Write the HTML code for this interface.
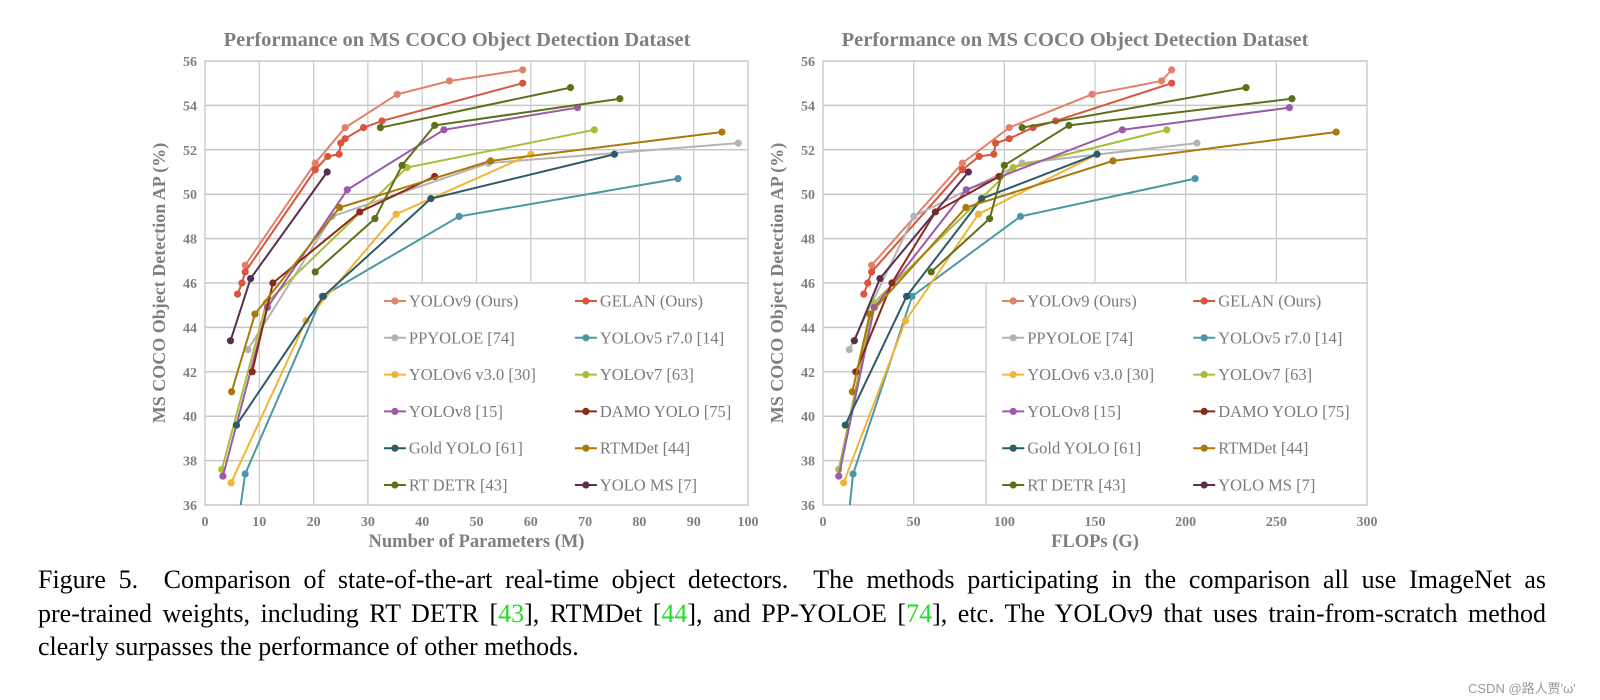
<!DOCTYPE html>
<html><head><meta charset="utf-8"><style>
body{margin:0;background:#fff;width:1600px;height:700px;overflow:hidden;font-family:"Liberation Serif",serif}
#cap{position:absolute;left:38px;top:563px;width:1508px;font-size:26px;line-height:33.5px;color:#000}
#cap div{white-space:nowrap;text-align:justify;text-align-last:justify}
#cap div.last{text-align:left;text-align-last:left}
#cap a{color:#22dd22;text-decoration:none}
#wm{position:absolute;left:1468px;top:678px;font-family:"Liberation Sans","Noto Sans CJK SC",sans-serif;font-size:13px;color:#999}
</style></head><body>
<svg id="svg" width="1600" height="560" style="position:absolute;left:0;top:0"></svg>
<div id="cap"><div>Figure 5.&nbsp; Comparison of state-of-the-art real-time object detectors.&nbsp; The methods participating in the comparison all use ImageNet as</div><div>pre-trained weights, including RT DETR [<a>43</a>], RTMDet [<a>44</a>], and PP-YOLOE [<a>74</a>], etc. The YOLOv9 that uses train-from-scratch method</div><div class="last">clearly surpasses the performance of other methods.</div></div>
<div id="wm">CSDN @路人贾'ω'</div>
<script>
const seriesNames=["YOLOv9 (Ours)","GELAN (Ours)","PPYOLOE [74]","YOLOv5 r7.0 [14]","YOLOv6 v3.0 [30]","YOLOv7 [63]","YOLOv8 [15]","DAMO YOLO [75]","Gold YOLO [61]","RTMDet [44]","RT DETR [43]","YOLO MS [7]"];
const seriesColors=["#e2806c","#d9553e","#b4b4b4","#4a97a7","#f2b533","#a9bd38","#9b5ba8","#8b2a1a","#2c5a66","#a9790c","#5e6f1a","#5a2e4f"];
const ap={
 "YOLOv9 (Ours)":[46.8,51.4,53.0,54.5,55.1,55.6],
 "GELAN (Ours)":[45.5,46.0,46.5,51.1,51.7,51.8,52.3,52.5,53.0,53.3,55.0],
 "PPYOLOE [74]":[43.0,49.0,51.4,52.3],
 "YOLOv5 r7.0 [14]":[28.0,37.4,45.4,49.0,50.7],
 "YOLOv6 v3.0 [30]":[37.0,44.3,49.1,51.8],
 "YOLOv7 [63]":[37.6,45.1,51.2,52.9],
 "YOLOv8 [15]":[37.3,44.9,50.2,52.9,53.9],
 "DAMO YOLO [75]":[42.0,46.0,49.2,50.8],
 "Gold YOLO [61]":[39.6,45.4,49.8,51.8],
 "RTMDet [44]":[41.1,44.6,49.4,51.5,52.8],
 "RT DETR [43]":[46.5,48.9,51.3,53.1,54.3],
 "RT DETR L/X":[53.0,54.8],
 "YOLO MS [7]":[43.4,46.2,51.0]
};
const params={
 "YOLOv9 (Ours)":[7.4,20.3,25.8,35.4,45.0,58.5],
 "GELAN (Ours)":[6.0,6.8,7.4,20.3,22.6,24.7,25.0,25.8,29.2,32.6,58.5],
 "PPYOLOE [74]":[7.9,23.4,52.2,98.2],
 "YOLOv5 r7.0 [14]":[1.9,7.4,21.6,46.8,87.1],
 "YOLOv6 v3.0 [30]":[4.8,18.6,35.2,60.0],
 "YOLOv7 [63]":[3.1,11.3,37.2,71.7],
 "YOLOv8 [15]":[3.3,11.5,26.2,44.0,68.6],
 "DAMO YOLO [75]":[8.7,12.5,28.5,42.3],
 "Gold YOLO [61]":[5.8,21.8,41.6,75.4],
 "RTMDet [44]":[4.9,9.2,24.8,52.6,95.2],
 "RT DETR [43]":[20.3,31.3,36.3,42.3,76.4],
 "RT DETR L/X":[32.3,67.3],
 "YOLO MS [7]":[4.7,8.4,22.5]
};
const flops={
 "YOLOv9 (Ours)":[26.8,76.9,102.7,148.4,186.7,192.3],
 "GELAN (Ours)":[22.5,24.7,26.8,76.9,86.1,94.2,95.2,102.7,115.8,128.3,192.3],
 "PPYOLOE [74]":[14.5,50.1,109.8,206.2],
 "YOLOv5 r7.0 [14]":[4.5,16.6,49.1,108.9,205.2],
 "YOLOv6 v3.0 [30]":[11.4,45.5,85.7,151.1],
 "YOLOv7 [63]":[8.7,27.9,104.8,189.6],
 "YOLOv8 [15]":[8.7,28.3,79.0,165.1,257.2],
 "DAMO YOLO [75]":[18.1,38.0,62.0,97.1],
 "Gold YOLO [61]":[12.3,46.1,87.5,151.1],
 "RTMDet [44]":[16.2,25.8,78.8,159.9,283.0],
 "RT DETR [43]":[59.7,91.9,100.0,135.6,258.6],
 "RT DETR L/X":[109.8,233.3],
 "YOLO MS [7]":[17.3,31.4,80.2]
};
const yTicks=[36,38,40,42,44,46,48,50,52,54,56];
const xTicksL=[0,10,20,30,40,50,60,70,80,90,100];
const xTicksR=[0,50,100,150,200,250,300];

const NS="http://www.w3.org/2000/svg";
const svg=document.getElementById('svg');
function mk(t,a,p){const e=document.createElementNS(NS,t);for(const k in a)e.setAttribute(k,a[k]);(p||svg).appendChild(e);return e;}
const G="#c8c8c8",TXT="#7f7f7f";
function chart(id,x0,x1,xmax,xticks,xdata,xtitle,cx){
  const y0=505,y1=61;
  const X=v=>x0+(x1-x0)*v/xmax, Y=v=>y0-(y0-y1)*(v-36)/20;
  const g=mk('g',{});
  
  
  let t=mk('text',{x:cx,y:46,'text-anchor':'middle','font-size':'20.5','font-weight':'bold',fill:TXT},g);t.textContent="Performance on MS COCO Object Detection Dataset";
  
  yTicks.forEach(v=>{mk('line',{x1:x0,x2:x1,y1:Y(v),y2:Y(v),stroke:G,'stroke-width':1.5},g);
    const l=mk('text',{x:x0-8,y:Y(v)+5,'text-anchor':'end','font-size':'14','font-weight':'bold',fill:TXT},g);l.textContent=v;
    });
  xticks.forEach(v=>{mk('line',{x1:X(v),x2:X(v),y1:y0,y2:y1,stroke:G,'stroke-width':1.2},g);
    const l=mk('text',{x:X(v),y:526,'text-anchor':'middle','font-size':'14','font-weight':'bold',fill:TXT},g);l.textContent=v;
    });
  mk('rect',{x:x0,y:y1,width:x1-x0,height:y0-y1,fill:'none',stroke:'#d0d0d0','stroke-width':1.5},g);
  t=mk('text',{x:(x0+x1)/2,y:547,'text-anchor':'middle','font-size':'18.5','font-weight':'bold',fill:TXT},g);t.textContent=xtitle;
  
  t=mk('text',{x:0,y:0,'text-anchor':'middle','font-size':'18','font-weight':'bold',fill:TXT,transform:`translate(${x0-40},${(y0+y1)/2}) rotate(-90)`},g);t.textContent="MS COCO Object Detection AP (%)";
  
  const clip=mk('clipPath',{id:'c'+id},g);mk('rect',{x:x0,y:y1-6,width:x1-x0+6,height:y0-y1+6},clip);
  const pg=mk('g',{'clip-path':`url(#c${id})`},g);
  Object.keys(ap).forEach(name=>{
    const col=seriesColors[seriesNames.indexOf(name==="RT DETR L/X"?"RT DETR [43]":name)];
    const pts=ap[name].map((v,i)=>[X(xdata[name][i]),Y(v)]);
    const pl=mk('polyline',{points:pts.map(p=>p.join(',')).join(' '),fill:'none',stroke:col,'stroke-width':2},pg);
    
    pts.forEach(p=>{const c=mk('circle',{cx:p[0],cy:p[1],r:3.6,fill:col},pg);
      });
  });
  const lx=X(xmax*0.3), ly=Y(46);
  const lg=mk('g',{},g);
  
  mk('rect',{x:lx,y:ly,width:x1-lx,height:y0-ly,fill:'#fff',stroke:'#d0d0d0','stroke-width':1.5},lg);
  seriesNames.forEach((n,i)=>{
    const col=i%2, row=Math.floor(i/2);
    const ex=lx+16+col*191, ey=ly+18+row*36.8;
    mk('line',{x1:ex,x2:ex+22,y1:ey,y2:ey,stroke:seriesColors[i],'stroke-width':2},lg);
    mk('circle',{cx:ex+11,cy:ey,r:3.6,fill:seriesColors[i]},lg);
    const tt=mk('text',{x:ex+25,y:ey+5.5,'font-size':'16.5',fill:'#7a7a7a'},lg);tt.textContent=n;
    
  });
}
chart('params-chart',205,748,100,xTicksL,params,"Number of Parameters (M)",457);
chart('flops-chart',823,1367,300,xTicksR,flops,"FLOPs (G)",1075);
</script>
</body></html>
